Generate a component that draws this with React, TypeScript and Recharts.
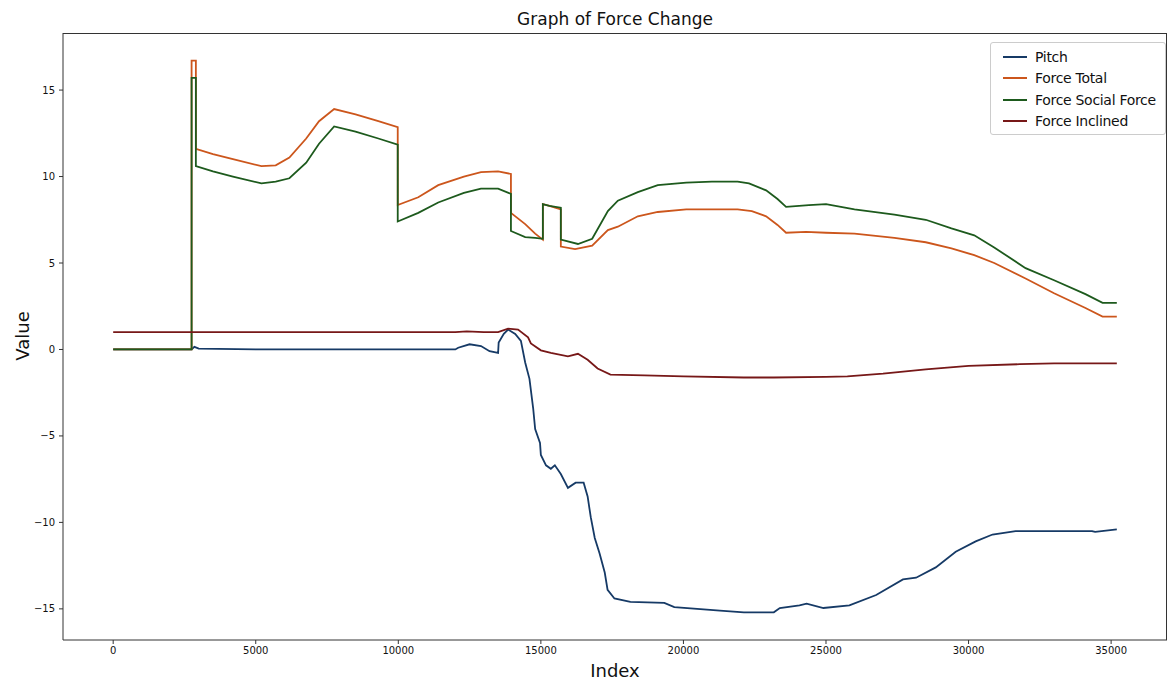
import { LineChart, Line, XAxis, YAxis } from 'recharts';

// ---- data ----
const xTicks = [0, 5000, 10000, 15000, 20000, 25000, 30000, 35000];
const yTicks = [-15, -10, -5, 0, 5, 10, 15];

const pitchIdx = [0, 2750, 2850, 3000, 5000, 10000, 12000, 12100, 12500, 12900, 13200, 13500, 13520, 13700, 13850, 14100, 14300, 14450, 14600, 14730, 14800, 14970, 15000, 15180, 15350, 15490, 15700, 15950, 16220, 16500, 16640, 16750, 16890, 17060, 17240, 17340, 17580, 18140, 19330, 19680, 21280, 22120, 23170, 23380, 24070, 24320, 24910, 25820, 26760, 27700, 28160, 28850, 29550, 30250, 30840, 31650, 32590, 34330, 34440, 35200];
const pitchVal = [0, 0, 0.15, 0.05, 0.0, 0.0, 0.0, 0.1, 0.3, 0.2, -0.1, -0.2, 0.4, 0.9, 1.15, 0.9, 0.5, -0.75, -1.7, -3.4, -4.6, -5.4, -6.1, -6.7, -6.9, -6.7, -7.2, -8.0, -7.7, -7.7, -8.5, -9.7, -10.9, -11.8, -12.9, -13.9, -14.4, -14.6, -14.65, -14.9, -15.1, -15.2, -15.2, -14.95, -14.8, -14.7, -14.95, -14.8, -14.2, -13.3, -13.2, -12.6, -11.7, -11.1, -10.7, -10.5, -10.5, -10.5, -10.55, -10.4];

const totalIdx = [0, 2750, 2750, 2900, 2900, 3500, 4200, 5200, 5700, 6180, 6770, 7220, 7750, 8500, 9300, 9980, 9980, 10700, 11400, 12300, 12900, 13500, 13950, 13950, 14450, 14800, 15070, 15070, 15300, 15700, 15700, 16200, 16800, 17350, 17700, 18400, 19100, 20100, 21000, 21900, 22400, 22900, 23300, 23600, 24300, 25000, 26000, 27400, 28500, 29400, 30200, 30900, 32000, 33000, 34100, 34700, 35200];
const totalVal = [0, 0, 16.7, 16.7, 11.6, 11.3, 11.0, 10.6, 10.65, 11.1, 12.2, 13.2, 13.9, 13.6, 13.2, 12.85, 8.35, 8.8, 9.5, 10.0, 10.25, 10.3, 10.15, 7.9, 7.25, 6.7, 6.35, 8.4, 8.3, 8.1, 5.95, 5.8, 6.0, 6.9, 7.1, 7.7, 7.95, 8.1, 8.1, 8.1, 8.0, 7.7, 7.2, 6.75, 6.8, 6.75, 6.7, 6.45, 6.2, 5.85, 5.45, 5.0, 4.1, 3.25, 2.4, 1.9, 1.9];

const socialIdx = [0, 2750, 2750, 2900, 2900, 3500, 4200, 5200, 5700, 6180, 6770, 7220, 7750, 8500, 9300, 9980, 9980, 10700, 11400, 12300, 12900, 13500, 13950, 13950, 14450, 14800, 15070, 15070, 15300, 15700, 15700, 16300, 16800, 17350, 17700, 18400, 19100, 20100, 21000, 21900, 22300, 22900, 23300, 23600, 24400, 25000, 26000, 27400, 28500, 29400, 30200, 30900, 32000, 33000, 34100, 34700, 35200];
const socialVal = [0, 0, 15.7, 15.7, 10.6, 10.3, 10.0, 9.6, 9.7, 9.9, 10.8, 11.9, 12.9, 12.6, 12.2, 11.85, 7.4, 7.9, 8.5, 9.05, 9.3, 9.3, 9.0, 6.85, 6.5, 6.45, 6.4, 8.4, 8.3, 8.2, 6.35, 6.1, 6.4, 8.0, 8.6, 9.1, 9.5, 9.65, 9.7, 9.7, 9.6, 9.2, 8.7, 8.25, 8.35, 8.4, 8.1, 7.8, 7.5, 7.0, 6.6, 5.9, 4.7, 4.0, 3.2, 2.7, 2.7];

const inclinedIdx = [0, 12000, 12400, 13000, 13500, 13850, 14200, 14550, 14650, 15000, 15350, 15950, 16300, 16640, 16990, 17440, 18630, 20000, 22120, 23170, 25000, 25750, 27000, 28500, 30000, 31800, 33000, 35200];
const inclinedVal = [1.0, 1.0, 1.05, 1.0, 1.0, 1.2, 1.15, 0.7, 0.35, -0.05, -0.2, -0.4, -0.25, -0.6, -1.1, -1.45, -1.5, -1.55, -1.62, -1.62, -1.58, -1.55, -1.4, -1.15, -0.95, -0.85, -0.8, -0.8];

const seriesNames = ['Pitch', 'Force Total', 'Force Social Force', 'Force Inclined'];
const seriesColors = ['#163a66', '#cc561c', '#1d5a1d', '#771818'];

const toPoints = (xs: number[], ys: number[]) => xs.map((x, i) => ({ x, y: ys[i] }));

const series = [
  toPoints(pitchIdx, pitchVal),
  toPoints(totalIdx, totalVal),
  toPoints(socialIdx, socialVal),
  toPoints(inclinedIdx, inclinedVal),
];

const FONT = '"DejaVu Sans", sans-serif';
const fmt = (v: number) => String(v).replace('-', '\u2212');

export default function App() {
  return (
    <div style={{ position: 'absolute', left: 0, top: 0, width: 1170, height: 682, background: '#fff', fontFamily: FONT }}>
      <div style={{ position: 'absolute', left: 63, width: 1104, top: 9, textAlign: 'center', fontSize: 17, color: '#111' }}>
        Graph of Force Change
      </div>
      <LineChart width={1170} height={682} margin={{ top: 33, right: 3, bottom: 0, left: 0 }}>
        <XAxis
          dataKey="x"
          type="number"
          domain={[-1760, 36960]}
          ticks={xTicks}
          allowDataOverflow
          height={42}
          tickSize={4}
          tickMargin={3}
          tick={{ fontSize: 10, fill: '#111', fontFamily: FONT }}
          tickFormatter={fmt}
          stroke="#333"
          label={{
            content: () => (
              <text x={615} y={677} textAnchor="middle" fontSize={18} fill="#111" fontFamily={FONT}>Index</text>
            ),
          }}
        />
        <YAxis
          type="number"
          domain={[-16.8, 18.3]}
          ticks={yTicks}
          allowDataOverflow
          width={63}
          tickSize={4}
          tickMargin={4}
          tick={{ fontSize: 10, fill: '#111', fontFamily: FONT }}
          tickFormatter={fmt}
          stroke="#333"
          label={{
            content: () => (
              <text x={22} y={336} transform="rotate(-90 22 336)" textAnchor="middle" dominantBaseline="central" fontSize={18} fill="#111" fontFamily={FONT}>Value</text>
            ),
          }}
        />
        {series.map((pts, i) => (
          <Line
            key={seriesNames[i]}
            data={pts}
            dataKey="y"
            name={seriesNames[i]}
            type="linear"
            stroke={seriesColors[i]}
            strokeWidth={1.8}
            dot={false}
            activeDot={false}
            isAnimationActive={false}
          />
        ))}
      </LineChart>
      {/* axes frame (top/right spines) */}
      <div style={{ position: 'absolute', left: 63, top: 33, width: 1104, height: 607, border: '1px solid #333', borderLeft: 'none', borderBottom: 'none', boxSizing: 'border-box', pointerEvents: 'none' }} />
      <div style={{ position: 'absolute', left: 990, top: 42, width: 176, height: 93, border: '1px solid #ccc', borderRadius: 3, background: '#fff', fontSize: 14, color: '#111', boxSizing: 'border-box', padding: '3px 0 0 10px' }}>
        {seriesNames.map((n, i) => (
          <div key={n} style={{ display: 'flex', alignItems: 'center', height: 21.5 }}>
            <svg width={28} height={4} style={{ marginRight: 6 }}>
              <line x1={2} y1={2} x2={26} y2={2} stroke={seriesColors[i]} strokeWidth={2} />
            </svg>
            <span style={{ whiteSpace: 'nowrap', letterSpacing: -0.3 }}>{n}</span>
          </div>
        ))}
      </div>
    </div>
  );
}
